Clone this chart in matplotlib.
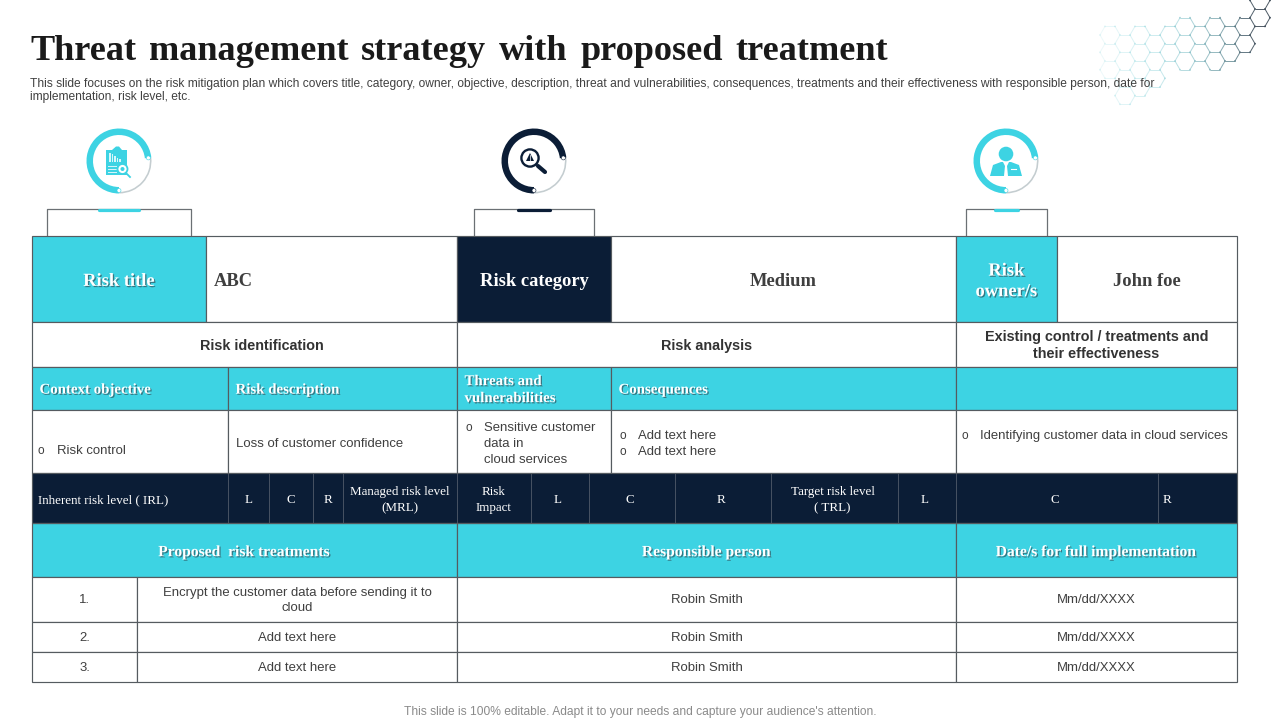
#!/usr/bin/env python3
"""
Threat management slide, drawn as a table on a pixel-sized axes
"""

import numpy as np
import matplotlib
matplotlib.use('Agg')
import matplotlib.pyplot as plt
import matplotlib.patheffects as pe
from matplotlib.collections import LineCollection
from matplotlib.patches import Circle, Polygon, Rectangle, Wedge

TEAL = '#3dd3e3'
NAVY = '#0b1d36'
GRID = '#555b60'
DARK = '#3f3f3f'
SERIF = 'Liberation Serif'
SANS = 'Liberation Sans'

TITLE = 'Threat management strategy with proposed treatment'
SUBTITLE = ('This slide focuses on the risk mitigation plan which covers title, category, owner, objective, '
            'description, threat and vulnerabilities, consequences, treatments and their effectiveness with '
            'responsible person, date for\nimplementation, risk level, etc.')
FOOTER = "This slide is 100% editable. Adapt it to your needs and capture your audience's attention."

# Table text
HEAD_LABELS = ['Risk title', 'ABC', 'Risk category', 'Medium', 'Risk\nowner/s', 'John foe']
SECTION_LABELS = ['Risk identification', 'Risk analysis', 'Existing control / treatments and\ntheir effectiveness']
COLUMN_LABELS = ['Context objective', 'Risk description', 'Threats and\nvulnerabilities', 'Consequences', '']
LEVEL_LABELS = ['Inherent risk level ( IRL)', 'L', 'C', 'R', 'Managed risk level\n(MRL)', 'Risk\nImpact',
                'L', 'C', 'R', 'Target risk level\n( TRL)', 'L', 'C', 'R']
TREATMENT_HEADS = ['Proposed  risk treatments', 'Responsible person', 'Date/s for full implementation']
ROW_NUMBERS = ['1.', '2.', '3.']
TREATMENTS = ['Encrypt the customer data before sending it to\ncloud', 'Add text here', 'Add text here']
PERSONS = ['Robin Smith', 'Robin Smith', 'Robin Smith']
DATES = ['Mm/dd/XXXX', 'Mm/dd/XXXX', 'Mm/dd/XXXX']

# Layout in pixels
ROW_Y = [236, 322, 367, 410, 473, 523, 577, 622, 652, 682]
HEAD_X = [32, 206, 457, 611, 956, 1057, 1237]
SECTION_X = [32, 457, 956, 1237]
COLUMN_X = [32, 228, 457, 611, 956, 1237]
LEVEL_X = [32, 228, 269, 313, 343, 457, 531, 589, 675, 771, 898, 956, 1158, 1237]
TREATMENT_X = [32, 137, 457, 956, 1237]
BODY = 13.1


def px(size):
    return size * 72 / 100


def shadow():
    return [pe.withSimplePatchShadow(offset=(0.9, -0.9), shadow_rgbFace='#30505a', alpha=0.7)]


def cell(ax, x0, x1, y0, y1, fill='white', edge=GRID, lw=0.85):
    ax.add_patch(Rectangle((x0, y0), x1 - x0, y1 - y0, facecolor=fill, edgecolor=edge, linewidth=lw, zorder=2))


def label(ax, x, y, text, size, family=SANS, color=DARK, weight='normal', ha='center', effects=None, spacing=1.3):
    # va=center sits a bit high against the slide, so push down with the size
    t = ax.text(x, y + 0.08 * size + 0.9, text, fontsize=px(size), family=family, color=color, fontweight=weight,
                ha=ha, va='center', linespacing=spacing, zorder=4)
    if effects:
        t.set_path_effects(effects)
    return t


def spread_words(ax, x0, x1, y, text, size, family, color, weight):
    # Title is wider spaced than a normal space, so place word by word
    fig = ax.figure
    renderer = fig.canvas.get_renderer()
    words = [label(ax, x0, y, w, size, family, color, weight, ha='left') for w in text.split()]
    widths = [w.get_window_extent(renderer).width for w in words]
    gap = (x1 - x0 - sum(widths)) / (len(words) - 1)
    x = x0
    for w, width in zip(words, widths):
        w.set_x(x)
        x += width + gap


def bullet(ax, x, y, text, tx):
    label(ax, x, y, 'o', 12, ha='left')
    label(ax, tx, y, text, BODY, ha='left')


def ring(ax, cx, cy, color):
    # y axis is flipped, so data angles run clockwise on screen
    ax.add_patch(Wedge((cx, cy), 32.5, 90, 354, width=6.5, facecolor=color, edgecolor='none', zorder=3))
    ax.add_patch(Wedge((cx, cy), 32.5, -6, 90, width=1.6, facecolor='#c4cdd0', edgecolor='none', zorder=3))
    for ang in (-6, 90):
        a = np.deg2rad(ang)
        ax.add_patch(Circle((cx + 29.5 * np.cos(a), cy + 29.5 * np.sin(a)), 2.0, facecolor='white',
                            edgecolor=color, linewidth=0.4, zorder=4))


def bracket(ax, x0, x1, b0, b1, color):
    ax.plot([x0, x0, x1, x1], [236, 209, 209, 236], color='#6b7074', lw=0.9, zorder=1)
    ax.plot([b0, b1], [209.5, 209.5], color=color, lw=2.3, solid_capstyle='round', zorder=3)


def clipboard_icon(ax, cx, cy):
    ax.add_patch(Rectangle((cx - 13, cy - 11), 21, 25, facecolor=TEAL, edgecolor='none', zorder=4))
    ax.add_patch(Polygon([(cx - 7, cy - 11), (cx - 3, cy - 14.5), (cx, cy - 14.5), (cx + 3, cy - 11)],
                         facecolor=TEAL, edgecolor='none', zorder=4))
    for dx, h in zip([-10, -7.5, -5, -2.5, 0], [9, 8, 6, 4, 3]):
        ax.add_patch(Rectangle((cx + dx, cy - h + 1), 1.5, h, facecolor='#d8f6fa', edgecolor='none', zorder=5))
    for dy in (5, 8, 11):
        ax.plot([cx - 11, cx - 3], [cy + dy, cy + dy], color='#d8f6fa', lw=0.7, zorder=5)
    ax.add_patch(Circle((cx + 3.5, cy + 8), 5, facecolor='white', edgecolor=TEAL, linewidth=1.3, zorder=5))
    ax.add_patch(Circle((cx + 3.5, cy + 8), 2, facecolor=TEAL, edgecolor='none', zorder=6))
    ax.plot([cx + 7, cx + 11], [cy + 12, cy + 16], color=TEAL, lw=1.3, zorder=5)


def search_icon(ax, cx, cy):
    ax.add_patch(Circle((cx - 4, cy - 3), 8.6, facecolor='white', edgecolor=NAVY, linewidth=1.7, zorder=4))
    ax.add_patch(Polygon([(cx - 8, cy + 0), (cx - 4, cy - 8), (cx + 0, cy + 0)], facecolor=NAVY,
                         edgecolor='none', zorder=5))
    ax.plot([cx - 4, cx - 4], [cy - 6, cy + 0], color='white', lw=0.5, zorder=6)
    ax.plot([cx + 4, cx + 11], [cy + 5, cy + 11], color=NAVY, lw=3, solid_capstyle='round', zorder=5)


def person_icon(ax, cx, cy):
    ax.add_patch(Circle((cx, cy - 7), 7.3, facecolor=TEAL, edgecolor='none', zorder=4))
    ax.add_patch(Polygon([(cx - 16, cy + 15), (cx - 13, cy + 4), (cx - 5, cy + 1), (cx + 5, cy + 1),
                          (cx + 13, cy + 4), (cx + 16, cy + 15)], facecolor=TEAL, edgecolor='none', zorder=4))
    ax.add_patch(Polygon([(cx - 3, cy + 1), (cx + 3, cy + 1), (cx + 1, cy + 5), (cx + 2, cy + 15), (cx - 2, cy + 15),
                          (cx - 1, cy + 5)], facecolor='white', edgecolor='none', zorder=5))
    ax.plot([cx + 5, cx + 10], [cy + 8, cy + 8], color='white', lw=0.8, zorder=5)


def keep_hex(cx, cy):
    # Rough outline of the honeycomb in the corner
    if cx >= 1260:
        return cy < 30
    if cx >= 1245:
        return 20 < cy < 46
    if cx >= 1230:
        return 24 < cy < 55
    if cx >= 1165:
        return 24 < cy < 62
    if 1120 <= cx <= 1140:
        return 34 < cy < 104
    return 34 < cy < 80


def hexagons(ax):
    side = 10.0
    tall = side * np.sqrt(3) / 2
    seen = {}
    for col in range(-10, 1):
        cx = 1260 + 15 * col
        for row in range(-1, 7):
            cy = 17.7 + 2 * tall * row + (tall if col % 2 else 0)
            if not keep_hex(cx, cy):
                continue
            angles = np.deg2rad(np.arange(0, 420, 60))
            xs = cx + side * np.cos(angles)
            ys = cy + side * np.sin(angles)
            for k in range(6):
                a, b = (xs[k], ys[k]), (xs[k + 1], ys[k + 1])
                key = tuple(sorted((tuple(np.round(a, 1)), tuple(np.round(b, 1)))))
                seen[key] = (a, b)
    segs, colors = [], []
    verts = {}
    for a, b in seen.values():
        xm = (a[0] + b[0]) / 2
        fade = np.clip((xm - 1095) / 160, 0, 1)
        rgb = np.array([0.55, 0.85, 0.88]) * (1 - fade ** 3) + np.array([0.25, 0.30, 0.35]) * fade ** 3
        segs.append([a, b])
        colors.append((*rgb, 0.12 + 0.8 * fade))
        for p in (a, b):
            verts[(round(p[0], 1), round(p[1], 1))] = (*rgb, 0.2 + 0.8 * fade)
    ax.add_collection(LineCollection(segs, colors=colors, linewidths=0.7, zorder=0))
    for (x, y), c in verts.items():
        ax.add_patch(Circle((x, y), 0.9, facecolor=c, edgecolor='none', zorder=0))


def main():
    fig = plt.figure(figsize=(12.8, 7.2), dpi=100)
    ax = fig.add_axes([0, 0, 1, 1])
    ax.set_xlim(0, 1280)
    ax.set_ylim(720, 0)
    ax.axis('off')

    hexagons(ax)

    spread_words(ax, 30, 888, 48, TITLE, 36.2, SERIF, '#1a1a1a', 'bold')
    label(ax, 30, 88.5, SUBTITLE, 12, color='#404040', ha='left', spacing=1.08)
    label(ax, 640, 710, FOOTER, 12, color='#8a8a8a')

    # Icons above the table
    ring(ax, 119, 161, TEAL)
    clipboard_icon(ax, 119, 161)
    ring(ax, 534, 161, NAVY)
    search_icon(ax, 534, 161)
    ring(ax, 1006, 161, TEAL)
    person_icon(ax, 1006, 161)
    bracket(ax, 47, 191, 99, 139, TEAL)
    bracket(ax, 474, 594, 518, 550, NAVY)
    bracket(ax, 966, 1047, 995, 1018, TEAL)

    # Risk title row
    y0, y1 = ROW_Y[0], ROW_Y[1]
    fills = [TEAL, 'white', NAVY, 'white', TEAL, 'white']
    for i, text in enumerate(HEAD_LABELS):
        x0, x1 = HEAD_X[i], HEAD_X[i + 1]
        cell(ax, x0, x1, y0, y1, fills[i])
        ym = (y0 + y1) / 2
        if fills[i] == TEAL:
            label(ax, (x0 + x1) / 2, ym, text, 18.5, SERIF, 'white', 'bold', effects=shadow(), spacing=1.28)
        elif fills[i] == NAVY:
            label(ax, (x0 + x1) / 2, ym, text, 18.5, SERIF, 'white', 'bold')
        elif text == 'ABC':
            label(ax, x0 + 8, ym, text, 18.5, SERIF, DARK, 'bold', ha='left')
        else:
            label(ax, (x0 + x1) / 2, ym, text, 18.5, SERIF, DARK, 'bold')

    # Section row
    y0, y1 = ROW_Y[1], ROW_Y[2]
    centers = [262, 706.5, 1096.5]
    for i, text in enumerate(SECTION_LABELS):
        cell(ax, SECTION_X[i], SECTION_X[i + 1], y0, y1)
        label(ax, centers[i], (y0 + y1) / 2 - 1, text, 14.4, color='#333333', weight='bold', spacing=1.3)

    # Column headers
    y0, y1 = ROW_Y[2], ROW_Y[3]
    for i, text in enumerate(COLUMN_LABELS):
        cell(ax, COLUMN_X[i], COLUMN_X[i + 1], y0, y1, TEAL)
        if text:
            label(ax, COLUMN_X[i] + 7.5, (y0 + y1) / 2 - 0.5, text, 14.9, SERIF, 'white', 'bold', ha='left',
                  effects=shadow(), spacing=1.4)

    # Description row
    y0, y1 = ROW_Y[3], ROW_Y[4]
    for i in range(5):
        cell(ax, COLUMN_X[i], COLUMN_X[i + 1], y0, y1)
    bullet(ax, 38, 449.5, 'Risk control', 57)
    label(ax, 236, 442, 'Loss of customer confidence', BODY, ha='left')
    bullet(ax, 465, 426, 'Sensitive customer', 484)
    label(ax, 484, 442, 'data in', BODY, ha='left')
    label(ax, 484, 458, 'cloud services', BODY, ha='left')
    bullet(ax, 619, 434, 'Add text here', 638)
    bullet(ax, 619, 450, 'Add text here', 638)
    bullet(ax, 961, 434.5, 'Identifying customer data in cloud services', 980)

    # Risk levels
    y0, y1 = ROW_Y[4], ROW_Y[5]
    for i, text in enumerate(LEVEL_LABELS):
        x0, x1 = LEVEL_X[i], LEVEL_X[i + 1]
        cell(ax, x0, x1, y0, y1, NAVY, edge='#465162', lw=0.7)
        ym = (y0 + y1) / 2
        if i == 0:
            label(ax, x0 + 6, ym, text, 13, SERIF, 'white', ha='left')
        elif i == len(LEVEL_LABELS) - 1:
            label(ax, x0 + 9, ym, text, 13, SERIF, 'white')
        else:
            shift = -2 if i >= 6 else 0
            label(ax, (x0 + x1) / 2 + shift, ym, text, 13, SERIF, 'white', spacing=1.5)
    ax.add_patch(Rectangle((32, y0), 1205, y1 - y0, facecolor='none', edgecolor=GRID, linewidth=0.85, zorder=3))

    # Treatments
    y0, y1 = ROW_Y[5], ROW_Y[6]
    for i, text in enumerate(TREATMENT_HEADS):
        x0, x1 = SECTION_X[i], SECTION_X[i + 1]
        cell(ax, x0, x1, y0, y1, TEAL)
        label(ax, (x0 + x1) / 2, (y0 + y1) / 2, text, 15.6, SERIF, 'white', 'bold', effects=shadow())

    for r in range(3):
        y0, y1 = ROW_Y[6 + r], ROW_Y[7 + r]
        ym = (y0 + y1) / 2
        texts = [ROW_NUMBERS[r], TREATMENTS[r], PERSONS[r], DATES[r]]
        for i, text in enumerate(texts):
            x0, x1 = TREATMENT_X[i], TREATMENT_X[i + 1]
            cell(ax, x0, x1, y0, y1)
            label(ax, (x0 + x1) / 2, ym - 1, text, BODY, spacing=1.3)

    fig.savefig('out.png', dpi=100)


if __name__ == '__main__':
    main()
